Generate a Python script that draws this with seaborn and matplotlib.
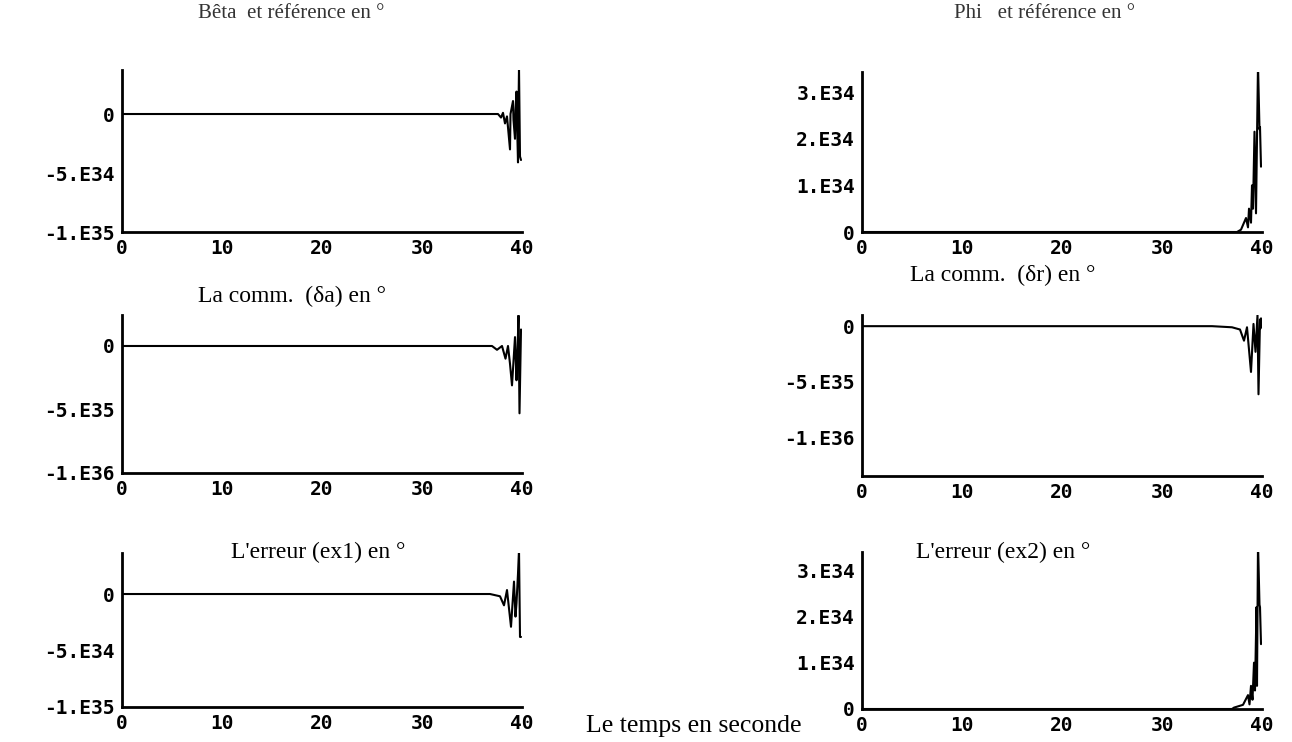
import numpy as np
import matplotlib
matplotlib.use("Agg")
import matplotlib.pyplot as plt
import seaborn as sns

# ---------------- data ----------------
x_ticks = [0, 10, 20, 30, 40]
x_tick_labels = ["0", "10", "20", "30", "40"]

# Bêta et référence (values x 1e34)
beta_t = [0, 37.6, 37.9, 38.1, 38.3, 38.5, 38.8, 38.85, 39.1, 39.15, 39.3, 39.35, 39.45, 39.5, 39.6, 39.65, 39.7, 39.8, 39.9]
beta_v = [0, 0, -0.3, 0.1, -0.8, -0.2, -3.0, 0.0, 1.1, -0.5, -2.1, 0.3, 1.9, -0.5, -4.1, 0.5, 3.9, -3.6, -3.9]

# Phi et référence (values x 1e34)
phi_t = [0, 37.5, 37.9, 38.4, 38.6, 38.7, 38.9, 39.0, 39.1, 39.25, 39.4, 39.6, 39.75, 39.8, 39.9]
phi_v = [0, 0, 0.05, 0.3, 0.1, 0.5, 0.2, 1.0, 0.5, 2.15, 0.4, 3.6, 2.2, 2.25, 1.4]

# La comm. (δa) (values x 1e35)
da_t = [0, 37.0, 37.5, 38.0, 38.35, 38.6, 38.8, 39.0, 39.3, 39.45, 39.55, 39.65, 39.75, 39.9]
da_v = [0, 0, -0.3, 0, -1.0, 0, -1.4, -3.1, 0.7, -2.7, -0.5, 2.4, -5.3, 1.3]

# La comm. (δr) (values x 1e35)
dr_t = [0, 35.0, 37.0, 37.8, 38.2, 38.5, 38.9, 39.15, 39.35, 39.55, 39.65, 39.8, 39.85, 39.9]
dr_v = [0, 0, -0.1, -0.3, -1.3, -0.1, -4.1, 0.2, -2.3, 1.0, -6.1, 0.6, -0.2, 0.7]

# L'erreur (ex1) (values x 1e34)
ex1_t = [0, 36.8, 37.8, 38.2, 38.5, 38.9, 39.2, 39.35, 39.45, 39.6, 39.7, 39.8, 39.9]
ex1_v = [0, 0, -0.2, -1.0, 0.35, -2.9, 1.1, -2.0, -0.8, 1.8, 3.9, -3.8, -3.8]

# L'erreur (ex2) (values x 1e34)
ex2_t = [0, 37.0, 37.2, 38.1, 38.6, 38.75, 38.9, 39.05, 39.2, 39.3, 39.45, 39.5, 39.6, 39.75, 39.8, 39.9]
ex2_v = [0, 0, 0.03, 0.09, 0.3, 0.1, 0.5, 0.2, 1.0, 0.4, 2.2, 0.5, 3.6, 2.25, 2.2, 1.4]

neg_e34_ticks = [0, -5e34, -1e35]
neg_e34_labels = ["0", "-5.E34", "-1.E35"]
neg_e35_ticks = [0, -5e35, -1e36]
neg_e35_labels = ["0", "-5.E35", "-1.E36"]
pos_e34_ticks = [0, 1e34, 2e34, 3e34]
pos_e34_labels = ["0", "1.E34", "2.E34", "3.E34"]

titles = ["Bêta  et référence en °", "Phi   et référence en °",
          "La comm.  (δa) en °", "La comm.  (δr) en °",
          "L'erreur (ex1) en °", "L'erreur (ex2) en °"]
xlabel_text = "Le temps en seconde"

# ---------------- figure ----------------
sns.set_theme(style="white")
plt.rcParams["font.family"] = ["Liberation Serif", "DejaVu Serif"]

W, H = 1292, 742
fig = plt.figure(figsize=(W / 100, H / 100), dpi=100)
fig.patch.set_facecolor("white")


def rect(l, t, r, b):
    return [l / W, 1 - b / H, (r - l) / W, (b - t) / H]


panels = [
    (rect(122, 70, 522, 232), beta_t, beta_v, 1e34, (-1e35, 0.373e35), neg_e34_ticks, neg_e34_labels),
    (rect(862, 72, 1262, 232), phi_t, phi_v, 1e34, (0, 3.43e34), pos_e34_ticks, pos_e34_labels),
    (rect(122, 315, 522, 473), da_t, da_v, 1e35, (-1e36, 0.244e36), neg_e35_ticks, neg_e35_labels),
    (rect(862, 315, 1262, 476), dr_t, dr_v, 1e35, (-1.342e36, 0.1e36), neg_e35_ticks, neg_e35_labels),
    (rect(122, 553, 522, 707), ex1_t, ex1_v, 1e34, (-1e35, 0.363e35), neg_e34_ticks, neg_e34_labels),
    (rect(862, 552, 1262, 709), ex2_t, ex2_v, 1e34, (0, 3.39e34), pos_e34_ticks, pos_e34_labels),
]

tick_font = dict(family="DejaVu Sans Mono", weight="bold", size=14)

for pos, t, v, scale, ylim, yt, ytl in panels:
    ax = fig.add_axes(pos)
    ax.set_facecolor("white")
    sns.lineplot(x=np.array(t), y=np.array(v) * scale, ax=ax, color="black",
                 linewidth=1.5, estimator=None, sort=False)
    ax.set_xlim(0, 40)
    ax.set_ylim(*ylim)
    ax.set_xticks(x_ticks)
    ax.set_xticklabels(x_tick_labels, fontdict=tick_font)
    ax.set_yticks(yt)
    ax.set_yticklabels(ytl, fontdict=tick_font)
    ax.set_xlabel("")
    ax.set_ylabel("")
    for s in ["top", "right"]:
        ax.spines[s].set_visible(False)
    for s in ["left", "bottom"]:
        ax.spines[s].set_color("black")
        ax.spines[s].set_linewidth(2)
    ax.tick_params(axis="both", direction="out", length=4, width=1.5,
                   color="black", labelcolor="black", pad=1)
    ax.grid(False)

# titles
fig.text(291 / W, 1 - 14 / H, titles[0], ha="center", va="center", fontsize=15, color="#333333")
fig.text(1045 / W, 1 - 14 / H, titles[1], ha="center", va="center", fontsize=15, color="#333333")
fig.text(292 / W, 1 - 296 / H, titles[2], ha="center", va="center", fontsize=17, color="black")
fig.text(1003 / W, 1 - 275 / H, titles[3], ha="center", va="center", fontsize=17, color="black")
fig.text(318 / W, 1 - 552 / H, titles[4], ha="center", va="center", fontsize=17, color="black")
fig.text(1003 / W, 1 - 552 / H, titles[5], ha="center", va="center", fontsize=17, color="black")
fig.text(694 / W, 1 - 726 / H, xlabel_text, ha="center", va="center", fontsize=18.5, color="black")

fig.savefig("out.png", dpi=100, facecolor="white")
